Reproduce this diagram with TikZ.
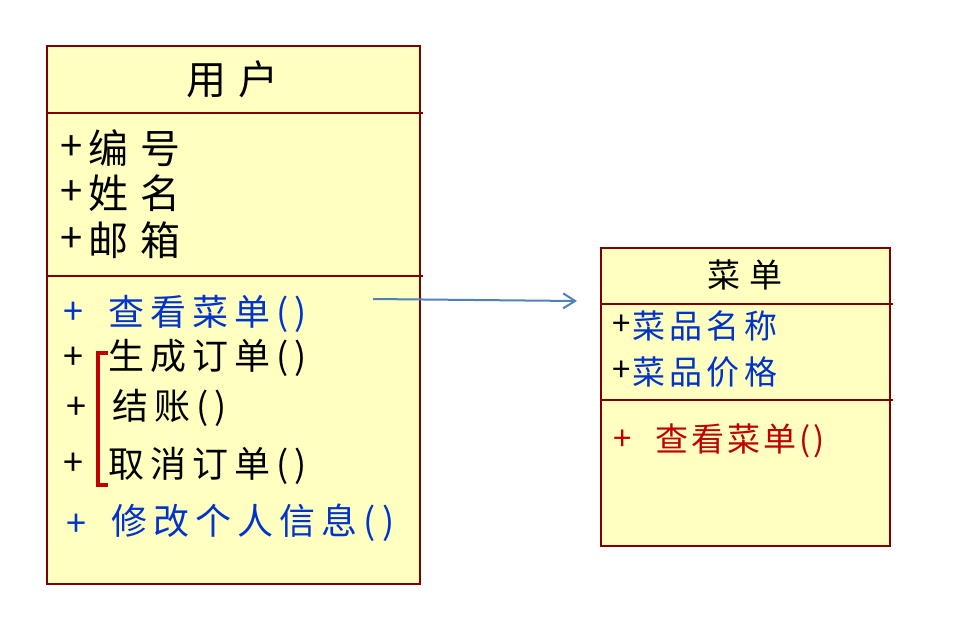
\documentclass[tikz,border=0pt]{standalone}
\usepackage{fontspec}
\usepackage{tikz}
\usepackage{xcolor}
\usetikzlibrary{arrows.meta}
\newfontfamily\cjkwide[LetterSpace=30]{Noto Sans CJK SC}
\newfontfamily\cjkmid[LetterSpace=17]{Noto Sans CJK SC}
\newfontfamily\cjkattr[LetterSpace=13]{Noto Sans CJK SC}
\newfontfamily\cjkop[LetterSpace=9]{Noto Sans CJK SC}
\definecolor{ClassBorder}{HTML}{800000}
\definecolor{ClassFill}{HTML}{FFFFC0}
\definecolor{OpBlue}{HTML}{0033CC}
\definecolor{OpRed}{HTML}{C00000}
\definecolor{LinkBlue}{HTML}{4F81BD}

\begin{document}
\begin{tikzpicture}[
      x=1pt,y=-1pt,
      classbox/.style={draw=ClassBorder,fill=ClassFill,line width=2pt,inner sep=0pt},
      divider/.style={draw=ClassBorder,line width=2pt},
      bigtxt/.style={inner sep=0pt,anchor=west,font=\fontsize{40}{48}\selectfont\cjkwide},
      optxt/.style={inner sep=0pt,anchor=west,font=\fontsize{36}{43}\selectfont\cjkmid},
      smalltitle/.style={inner sep=0pt,font=\fontsize{33}{40}\selectfont\cjkwide},
      attrtxt/.style={inner sep=0pt,anchor=west,font=\fontsize{33}{40}\selectfont\cjkattr},
      redop/.style={inner sep=0pt,anchor=west,text=OpRed,font=\fontsize{33}{40}\selectfont\cjkop},
      callarrow/.style={-{Straight Barb[length=12pt,width=15pt]},draw=LinkBlue,line width=2pt}
    ]
      \useasboundingbox (0,0) rectangle (976,633);

      % class: user
      \node[classbox,minimum width=373pt,minimum height=538pt] (user) at (233.5,315) {};
      \draw[divider] (47,113) -- (423,113);
      \draw[divider] (47,276) -- (423,276);
      \node[inner sep=0pt,font=\fontsize{40}{48}\selectfont\cjkwide] (usertitle) at (232,79) {用户};
      \node[bigtxt] (pid) at (60,148) {+};
      \node[bigtxt] (uid) at (88,148) {编号};
      \node[bigtxt] (pname) at (60,193) {+};
      \node[bigtxt] (uname) at (88,193) {姓名};
      \node[bigtxt] (pmail) at (60,240) {+};
      \node[bigtxt] (umail) at (88,240) {邮箱};

      \node[optxt,text=OpBlue] (pview) at (63,313) {+};
      \node[optxt,text=OpBlue] (opview) at (108,314) {查看菜单()};
      \node[optxt] (porder) at (63,358) {+};
      \node[optxt] (oporder) at (108,358) {生成订单()};
      \node[optxt] (ppay) at (66,408) {+};
      \node[optxt] (oppay) at (112,408) {结账()};
      \node[optxt] (pcancel) at (63,464) {+};
      \node[optxt] (opcancel) at (108,466) {取消订单()};
      \node[optxt,text=OpBlue] (pedit) at (66,525) {+};
      \node[optxt,text=OpBlue] (opedit) at (111,523) {修改个人信息()};
      \draw[OpRed,line width=4pt] (108,353) -- (97.5,353) -- (97.5,485) -- (108,485);

      % class: menu
      \node[classbox,minimum width=289pt,minimum height=298pt] (menu) at (745.5,397) {};
      \draw[divider] (601,304) -- (893,304);
      \draw[divider] (601,400) -- (893,400);
      \node[smalltitle] (menutitle) at (745,275) {菜单};
      \node[attrtxt] (pdish) at (612,325) {+};
      \node[attrtxt,text=OpBlue] (dishname) at (632,326) {菜品名称};
      \node[attrtxt] (pprice) at (612,371) {+};
      \node[attrtxt,text=OpBlue] (dishprice) at (632,372) {菜品价格};
      \node[redop] (pmenu) at (613,440) {+};
      \node[redop] (opmenu) at (655,441) {查看菜单()};

      % call link
      \coordinate (callstart) at (373,299);
      \coordinate (callend) at (577,301);
      \draw[callarrow] (callstart) -- (callend);
    \end{tikzpicture}
\end{document}
